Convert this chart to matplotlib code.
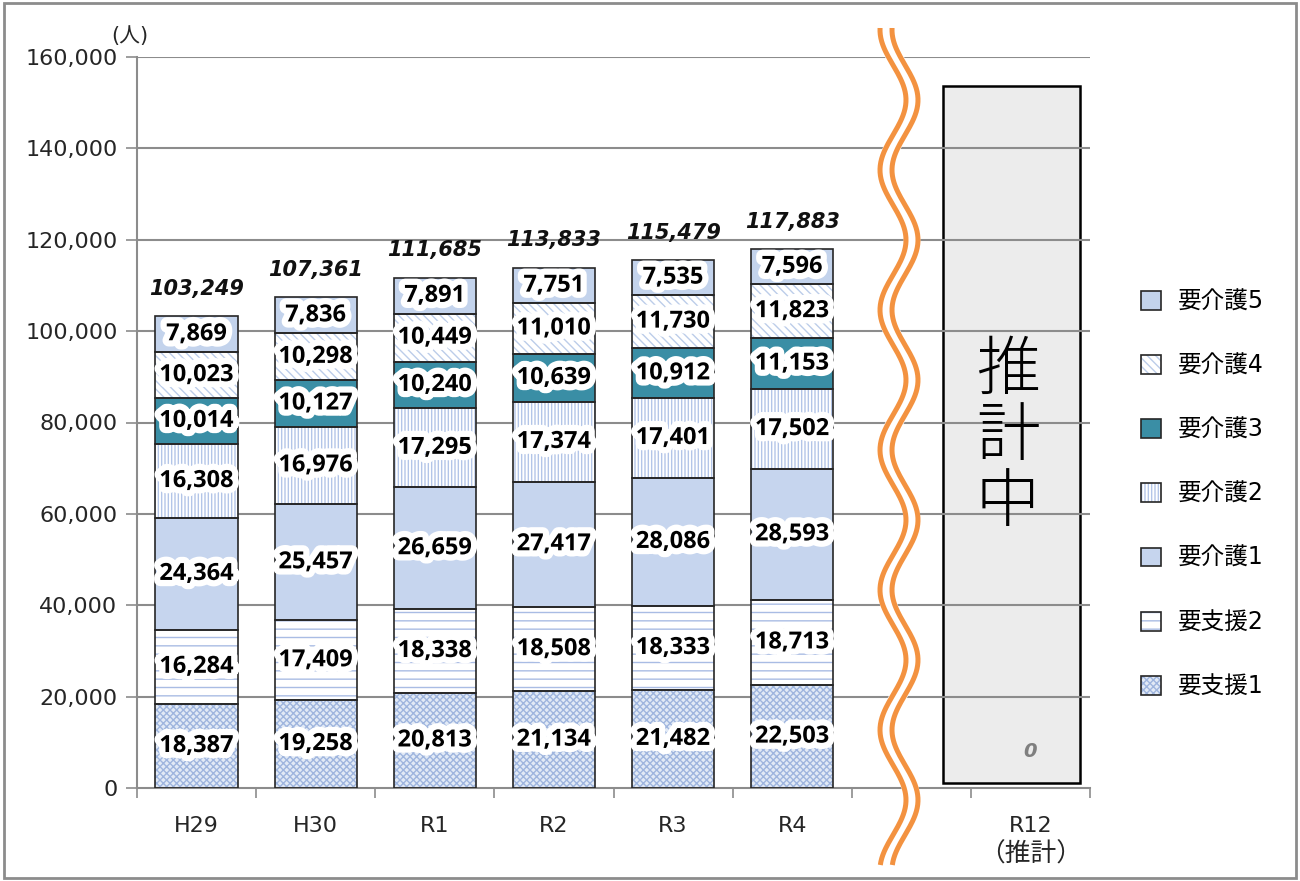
import numpy as np
import matplotlib.pyplot as plt
import matplotlib.patheffects as pe
from matplotlib.patches import Patch, Rectangle
from matplotlib.lines import Line2D
from matplotlib.legend_handler import HandlerTuple

plt.rcParams['font.family'] = ['DejaVu Sans', 'Noto Sans CJK JP']

# data
years = ['H29', 'H30', 'R1', 'R2', 'R3', 'R4']
est_label = 'R12'
est_note = '（推計）'
est_value = 0
levels = ['要支援1', '要支援2', '要介護1', '要介護2', '要介護3', '要介護4', '要介護5']
shien1 = [18387, 19258, 20813, 21134, 21482, 22503]
shien2 = [16284, 17409, 18338, 18508, 18333, 18713]
kaigo1 = [24364, 25457, 26659, 27417, 28086, 28593]
kaigo2 = [16308, 16976, 17295, 17374, 17401, 17502]
kaigo3 = [10014, 10127, 10240, 10639, 10912, 11153]
kaigo4 = [10023, 10298, 10449, 11010, 11730, 11823]
kaigo5 = [7869, 7836, 7891, 7751, 7535, 7596]
series = [shien1, shien2, kaigo1, kaigo2, kaigo3, kaigo4, kaigo5]

# styles: face colour, hatch, hatch colour
faces = ['#e2eaf6', 'white', '#c6d5ee', 'white', '#3a8ea5', 'white', '#c3d3ec']
hatches = ['xxxxx', '--', None, '|||||', None, '\\\\\\\\', None]
hatch_cols = ['#9fb5de', '#a9bce4', '#c6d5ee', '#b3c5e8', '#3a8ea5', '#bccde9', '#c3d3ec']

W, H = 1300, 881
fig = plt.figure(figsize=(W / 100, H / 100), dpi=100)
ax = fig.add_axes([137 / W, 1 - 788 / H, (1090 - 137) / W, (788 - 57) / H])

x = np.arange(len(years))
width = 0.69
bottom = np.zeros(len(years))
glow = [pe.Stroke(linewidth=9, foreground='white'), pe.Normal()]
handles = []
for name, vals, face, hatch, hcol in zip(levels, series, faces, hatches, hatch_cols):
    vals = np.array(vals)
    ax.bar(x, vals, width, bottom=bottom, color=face, edgecolor=hcol, hatch=hatch,
           linewidth=0, zorder=2)
    ax.bar(x, vals, width, bottom=bottom, fill=False, edgecolor='#262626', linewidth=1.2, zorder=3)
    for xi, v, b in zip(x, vals, bottom):
        ax.text(xi, b + v / 2, f'{v:,}', ha='center', va='center', fontsize=17,
                fontweight='bold', family=['Open Sans', 'DejaVu Sans'], color='black',
                zorder=5, path_effects=glow)
    handles.append((Patch(facecolor=face, edgecolor=hcol, hatch=hatch, linewidth=0),
                    Patch(fill=False, edgecolor='#262626', linewidth=1.2)))
    bottom += vals

# totals
for xi, t in zip(x, bottom):
    ax.annotate(f'{int(t):,}', (xi, t), xytext=(0, 20), textcoords='offset points',
                ha='center', va='center', fontsize=15, fontweight='bold', fontstyle='italic',
                color='#111111', zorder=5)

# R12 estimate (not yet available)
ax.bar(7, est_value, width, color='#ececec', zorder=2)
ax.add_patch(Rectangle((6.27, 1000), 1.15, 152600, facecolor='#ececec', edgecolor='black',
                       linewidth=1.8, zorder=0.8))
ax.text(6.81, 76800, '推\n計\n中', ha='center', va='center', fontsize=46,
        family='Noto Sans CJK JP', fontweight='light', linespacing=1.0, zorder=4)
ax.text(7, 7900, f'{est_value}', ha='center', va='center', fontsize=14, fontweight='bold',
        fontstyle='italic', color='#7f7f7f', zorder=4)

# axes
yticks = np.arange(0, 160001, 20000)
for yv in yticks[1:]:
    ax.axhline(yv, color='#8c8c8c', linewidth=1.5, zorder=1)
ax.set_xlim(-0.5, 7.5)
ax.set_ylim(0, 160000)
ax.set_yticks(yticks)
ax.set_yticklabels([f'{v:,}' for v in yticks])
ax.set_xticks(list(x) + [7])
ax.set_xticklabels(years + [est_label])
ax.set_xticks(np.arange(-0.5, 8, 1), minor=True)
ax.tick_params(axis='x', which='major', length=0, pad=20, labelsize=16, labelcolor='#262626')
ax.tick_params(axis='x', which='minor', length=7, width=1.2, color='#8c8c8c')
ax.tick_params(axis='y', length=8, width=1.2, color='#8c8c8c', pad=6, labelsize=16,
               labelcolor='#262626')
for s in ['top', 'right']:
    ax.spines[s].set_visible(False)
for s in ['left', 'bottom']:
    ax.spines[s].set_color('#8c8c8c')
    ax.spines[s].set_linewidth(1.5)

ax.annotate(est_note, (7, 0), xycoords=('data', 'axes fraction'), xytext=(0, -48),
            textcoords='offset points', ha='center', va='center', fontsize=18.5,
            family='Noto Sans CJK JP', color='#262626')
fig.text(130 / W, 1 - 36 / H, '(人)', ha='center', va='center', fontsize=15, color='#262626')

# legend
ax.legend(handles[::-1], levels[::-1], loc='center left', bbox_to_anchor=(1141 / W, 1 - 494 / H),
          bbox_transform=fig.transFigure, frameon=False, fontsize=17, labelspacing=1.7,
          handlelength=0.85, handleheight=0.85, handletextpad=0.7, borderpad=0, borderaxespad=0,
          handler_map={tuple: HandlerTuple(ndivide=1)})

# axis break (double wavy line)
yy = np.linspace(28, 865, 500)
xx = 893 + 13 * np.cos(2 * np.pi * (yy - 100) / 140)
fig.add_artist(Line2D((xx + 6) / W, 1 - yy / H, color='white', linewidth=12,
                      transform=fig.transFigure, zorder=10))
for dx in (0, 12):
    fig.add_artist(Line2D((xx + dx) / W, 1 - yy / H, color='#f39240', linewidth=3.6,
                          transform=fig.transFigure, zorder=11, solid_capstyle='butt'))

# outer frame
fig.add_artist(Rectangle((0.003, 0.003), 0.994, 0.994, transform=fig.transFigure, fill=False,
                         edgecolor='#8c8c8c', linewidth=2))

fig.savefig('out.png', dpi=100)
